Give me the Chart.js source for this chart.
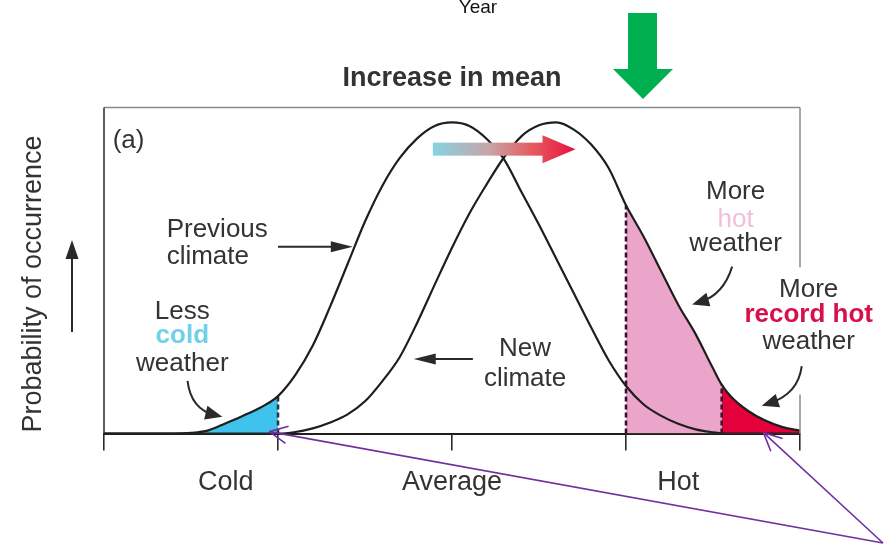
<!DOCTYPE html>
<html>
<head>
<meta charset="utf-8">
<script src="https://cdn.jsdelivr.net/npm/chart.js@4.4.1/dist/chart.umd.min.js"></script>
<style>
html,body{margin:0;padding:0;background:#fff;}
</style>
</head>
<body>
<canvas id="climate" width="884" height="554"></canvas>
<script>
// temperature axis, in steps from the average
const xs = [-2,-1.9,-1.8,-1.7,-1.6,-1.5,-1.4,-1.3,-1.2,-1.1,-1,-0.9,-0.8,-0.7,-0.6,-0.5,-0.4,-0.3,-0.2,-0.1,
            0,0.1,0.2,0.3,0.4,0.5,0.6,0.7,0.8,0.9,1,1.1,1.2,1.3,1.4,1.5,1.55,1.6,1.7,1.8,1.9,2];
const previousClimate = [0,0,0,0,0,0.2,1,3.2,5.5,8,11.5,18,27,39,52,65,76,84.5,90.5,94.3,
            95.4,94.3,90.3,84,74,64,53.5,43,32.5,22.5,14.6,9,5.5,3,1.3,0.4,0.1,0,0,0,0,0];
const newClimate = [0,0,0,0,0,0,0,0,0,0,0,0.5,1.6,3.4,5.9,9.9,16.1,23.5,34,45.6,
            57,67.5,76.5,84.8,91.2,94.5,95.4,93.2,88.6,81.4,70,60.5,50,39.5,30.5,20,15,11.5,7,4,2,0.9];
const tickValues = [-2, -1.3, -1, 0, 1, 1.3, 2];
const tickLabels = ['', 'Cold', '', 'Average', '', 'Hot', ''];
const tickMarks = [-2, -1, 0, 1, 2];
const coldEdge = -1;
const hotEdge = 1;
const recordEdge = 1.55;

const FONT = '"Liberation Sans", Arial, Helvetica, sans-serif';
const INK = '#1e1e1e';

const pts = arr => xs.map((x, i) => ({x: x, y: arr[i]}));
const valueAt = (arr, x) => arr[xs.indexOf(x)];

const annotate = {
    id: 'annotate',
    afterDraw(chart) {
        const ctx = chart.ctx;
        const a = chart.chartArea;
        const X = v => chart.scales.x.getPixelForValue(v);
        const Y = v => chart.scales.y.getPixelForValue(v);

        const line = (x0, y0, x1, y1) => { ctx.beginPath(); ctx.moveTo(x0, y0); ctx.lineTo(x1, y1); ctx.stroke(); };
        const head = (x, y, ang, len, half) => {
            const bx = x - len * Math.cos(ang), by = y - len * Math.sin(ang);
            ctx.beginPath();
            ctx.moveTo(x, y);
            ctx.lineTo(bx + half * Math.sin(ang), by - half * Math.cos(ang));
            ctx.lineTo(bx - half * Math.sin(ang), by + half * Math.cos(ang));
            ctx.closePath();
            ctx.fill();
        };
        const curveArrow = (x0, y0, cx, cy, x1, y1) => {
            const ang = Math.atan2(y1 - cy, x1 - cx);
            ctx.beginPath(); ctx.moveTo(x0, y0);
            ctx.quadraticCurveTo(cx, cy, x1 - 8 * Math.cos(ang), y1 - 8 * Math.sin(ang));
            ctx.stroke();
            head(x1, y1, ang, 17, 7);
        };
        const label = (lines, x, y, align) => {
            ctx.textAlign = align || 'center';
            ctx.textBaseline = 'middle';
            let yy = y;
            lines.forEach((l, i) => {
                if (i) yy += (l.gap || 27);
                ctx.font = (l.bold ? 'bold ' : '') + '26px ' + FONT;
                ctx.fillStyle = l.color || '#333';
                ctx.fillText(l.text, x, yy);
            });
        };

        ctx.save();

        // frame around the plot
        ctx.lineWidth = 1.5;
        ctx.strokeStyle = '#8a8a8a';
        line(a.left, a.top, a.right, a.top);
        line(a.right, a.top, a.right, Y(51));
        line(a.right, Y(12), a.right, a.bottom);
        ctx.strokeStyle = '#2a2a2a';
        line(a.left, a.top, a.left, a.bottom);

        // (a)
        ctx.font = '26px ' + FONT;
        ctx.fillStyle = '#333';
        ctx.textAlign = 'left';
        ctx.textBaseline = 'middle';
        ctx.fillText('(a)', X(-1.95), Y(89.6));

        // labels
        label([{text: 'Previous'}, {text: 'climate'}], X(-1.64), Y(62.5), 'left');
        label([{text: 'Less'}, {text: 'cold', color: '#6fd0e8', bold: true, gap: 24}, {text: 'weather', gap: 28}], X(-1.55), Y(37.2));
        label([{text: 'New'}, {text: 'climate', gap: 30}], X(0.42), Y(25.9));
        label([{text: 'More'}, {text: 'hot', color: '#f0c0da', gap: 28}, {text: 'weather', gap: 24}], X(1.63), Y(74.1));
        label([{text: 'More'}, {text: 'record hot', color: '#d8104a', bold: true, gap: 25}, {text: 'weather', gap: 27}], X(2.05), Y(44.2));

        // arrows
        ctx.strokeStyle = '#2a2a2a';
        ctx.fillStyle = '#2a2a2a';
        ctx.lineWidth = 2;
        line(X(-1.0), Y(57.3), X(-0.62), Y(57.3));
        head(X(-0.57), Y(57.3), 0, 22, 5.5);
        line(X(0.12), Y(22.9), X(-0.17), Y(22.9));
        head(X(-0.22), Y(22.9), Math.PI, 22, 5.5);
        curveArrow(X(-1.52), Y(16.2), X(-1.50), Y(7.5), X(-1.32), Y(5.2));
        curveArrow(X(1.61), Y(51.2), X(1.56), Y(42.5), X(1.38), Y(39.6));
        curveArrow(X(2.01), Y(20.7), X(1.99), Y(12.2), X(1.78), Y(8.5));

        // shift arrow
        const gx0 = X(-0.11), gx1 = X(0.52), gx2 = X(0.71), gy = Y(87.2);
        const grad = ctx.createLinearGradient(gx0, 0, gx2, 0);
        grad.addColorStop(0, '#86d3e3');
        grad.addColorStop(0.4, '#c9a3a6');
        grad.addColorStop(0.7, '#e65a5e');
        grad.addColorStop(1, '#e8103c');
        ctx.fillStyle = grad;
        ctx.fillRect(gx0, gy - 6.5, gx1 - gx0 + 1, 13);
        ctx.beginPath();
        ctx.moveTo(gx1, gy - 14);
        ctx.lineTo(gx2, gy);
        ctx.lineTo(gx1, gy + 14);
        ctx.closePath();
        ctx.fill();

        // y axis title and arrow
        ctx.save();
        ctx.translate(34, 284);
        ctx.rotate(-Math.PI / 2);
        ctx.font = '27px ' + FONT;
        ctx.fillStyle = '#333';
        ctx.textAlign = 'center';
        ctx.textBaseline = 'middle';
        ctx.fillText('Probability of occurrence', 0, 0);
        ctx.restore();
        ctx.strokeStyle = '#2a2a2a';
        ctx.fillStyle = '#2a2a2a';
        line(72, 332, 72, 254);
        head(72, 240, -Math.PI / 2, 19, 6.5);

        // green arrow
        ctx.fillStyle = '#00b050';
        ctx.beginPath();
        [[628, 13], [657, 13], [657, 69], [673, 69], [643, 99], [613, 69], [628, 69]]
            .forEach((p, i) => i ? ctx.lineTo(p[0], p[1]) : ctx.moveTo(p[0], p[1]));
        ctx.closePath();
        ctx.fill();

        // Year
        ctx.font = '19px ' + FONT;
        ctx.fillStyle = '#111';
        ctx.textAlign = 'center';
        ctx.textBaseline = 'alphabetic';
        ctx.fillText('Year', 478, 13);

        // purple pointers
        ctx.strokeStyle = '#7030a0';
        ctx.lineWidth = 1.6;
        [[X(-1.05), Y(0.6)], [X(1.79), Y(0.3)]].forEach(t => {
            line(883, 543, t[0], t[1]);
            const ang = Math.atan2(t[1] - 543, t[0] - 883);
            [0.45, -0.45].forEach(s => line(t[0], t[1], t[0] - 20 * Math.cos(ang + s), t[1] - 20 * Math.sin(ang + s)));
        });

        ctx.restore();
    }
};

const curve = (data) => ({
    data: pts(data), borderColor: INK, borderWidth: 2.2, pointRadius: 0,
    cubicInterpolationMode: 'monotone', fill: false, order: 1
});
const area = (data, keep, color, order) => ({
    data: pts(data).filter(p => keep(p.x)), borderWidth: 0, pointRadius: 0,
    cubicInterpolationMode: 'monotone', fill: 'origin', backgroundColor: color, order: order
});
const edge = (x, y, color) => ({
    data: [{x: x, y: 0}, {x: x, y: y}], borderColor: color, borderWidth: 2.6,
    borderDash: [5, 3], pointRadius: 0, tension: 0, fill: false, order: 2
});

new Chart(document.getElementById('climate'), {
    type: 'line',
    data: {
        datasets: [
            curve(previousClimate),
            curve(newClimate),
            edge(coldEdge, valueAt(previousClimate, coldEdge), '#1e3a4a'),
            edge(hotEdge, valueAt(newClimate, hotEdge), '#3a1030'),
            edge(recordEdge, valueAt(newClimate, recordEdge), '#3a1030'),
            area(previousClimate, x => x <= coldEdge, '#3fc3ec', 3),
            area(newClimate, x => x >= recordEdge, '#e4003a', 3),
            area(newClimate, x => x >= hotEdge, '#eba5cb', 4)
        ]
    },
    options: {
        responsive: false,
        animation: false,
        devicePixelRatio: 1,
        layout: { padding: { left: 104, right: 84, top: 50, bottom: 39 } },
        plugins: {
            legend: { display: false },
            tooltip: { enabled: false },
            title: {
                display: true,
                text: 'Increase in mean',
                color: '#333',
                font: { family: FONT, size: 27, weight: 'bold' },
                padding: { top: 12, bottom: 13 }
            }
        },
        scales: {
            x: {
                type: 'linear',
                min: -2,
                max: 2,
                afterBuildTicks: axis => { axis.ticks = tickValues.map(v => ({ value: v })); },
                ticks: {
                    autoSkip: false,
                    maxRotation: 0,
                    padding: 16,
                    color: '#333',
                    font: { family: FONT, size: 27 },
                    callback: v => tickLabels[tickValues.indexOf(v)] || ''
                },
                grid: {
                    drawOnChartArea: false,
                    tickLength: 17,
                    lineWidth: 1.6,
                    color: c => (c.tick && tickMarks.includes(c.tick.value)) ? '#2a2a2a' : 'rgba(0,0,0,0)'
                },
                border: { display: true, color: INK, width: 2 }
            },
            y: {
                display: false,
                min: 0,
                max: 100
            }
        }
    },
    plugins: [annotate]
});
</script>
</body>
</html>
